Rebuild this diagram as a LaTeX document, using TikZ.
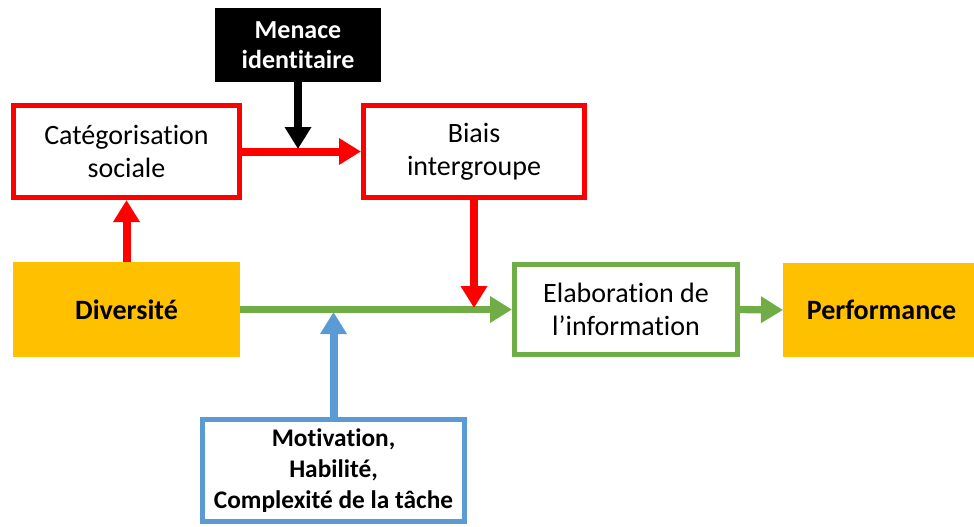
\documentclass[tikz,border=0pt]{standalone}
\usepackage{fontspec}
\setmainfont{Carlito}[Ligatures=NoCommon]
\usetikzlibrary{arrows.meta}
\definecolor{rouge}{HTML}{FF0000}
\definecolor{vert}{HTML}{70AD47}
\definecolor{bleu}{HTML}{5B9BD5}
\definecolor{jaune}{HTML}{FFC000}

\begin{document}
\begin{tikzpicture}[x=0.75pt,y=-0.75pt,
	box/.style={line width=3.75pt,align=center,inner sep=0pt,font=\fontsize{21}{25}\selectfont},
	plein/.style={box,outer sep=0pt,font=\bfseries\fontsize{21}{25}\selectfont},
	fleche/.style={line width=6pt,-{Triangle[length=16.5pt,width=19pt]}}]

	\useasboundingbox (0,0) rectangle (974,526);

	\node[plein,fill=black,text=white,font=\bfseries\fontsize{19.5}{23}\selectfont,minimum width=124.5pt,minimum height=55.5pt] (menace) at (298,45) {Menace\\identitaire};
	\node[box,draw=rouge,minimum width=169.5pt,minimum height=69pt] (cat) at (126.5,151.5) {Catégorisation\\sociale};
	\node[box,draw=rouge,minimum width=165.75pt,minimum height=69pt] (biais) at (474,151.5) {Biais\\intergroupe};
	\node[plein,fill=jaune,minimum width=170.25pt,minimum height=71.25pt] (div) at (126.5,309.5) {Diversité};
	\node[box,draw=vert,minimum width=167.25pt,minimum height=67.5pt] (elab) at (626,309.5) {Elaboration de\\l’information};
	\node[plein,fill=jaune,minimum width=147.75pt,minimum height=70.5pt] (perf) at (881.5,310) {Performance};
	\node[box,draw=bleu,font=\bfseries\fontsize{19}{23}\selectfont,minimum width=196.5pt,minimum height=76.5pt] (mot) at (333.5,470.5) {Motivation,\\Habilité,\\Complexité de la tâche};

	\coordinate (m) at (298,149);
	\coordinate (r) at (474,308);
	\coordinate (b) at (333.5,312);

	% fleches
	\draw[fleche,rouge] (div.north) -- (cat.south);
	\draw[fleche,rouge] (cat.east) -- (biais.west);
	\draw[fleche,black] (menace.south) -- (m);
	\draw[fleche,vert,line width=5.5pt] (div.east) -- (elab.west);
	\draw[fleche,rouge] (biais.south) -- (r);
	\draw[fleche,bleu] (mot.north) -- (b);
	\draw[fleche,vert,line width=5.5pt] (elab.east) -- (perf.west);

\end{tikzpicture}
\end{document}
